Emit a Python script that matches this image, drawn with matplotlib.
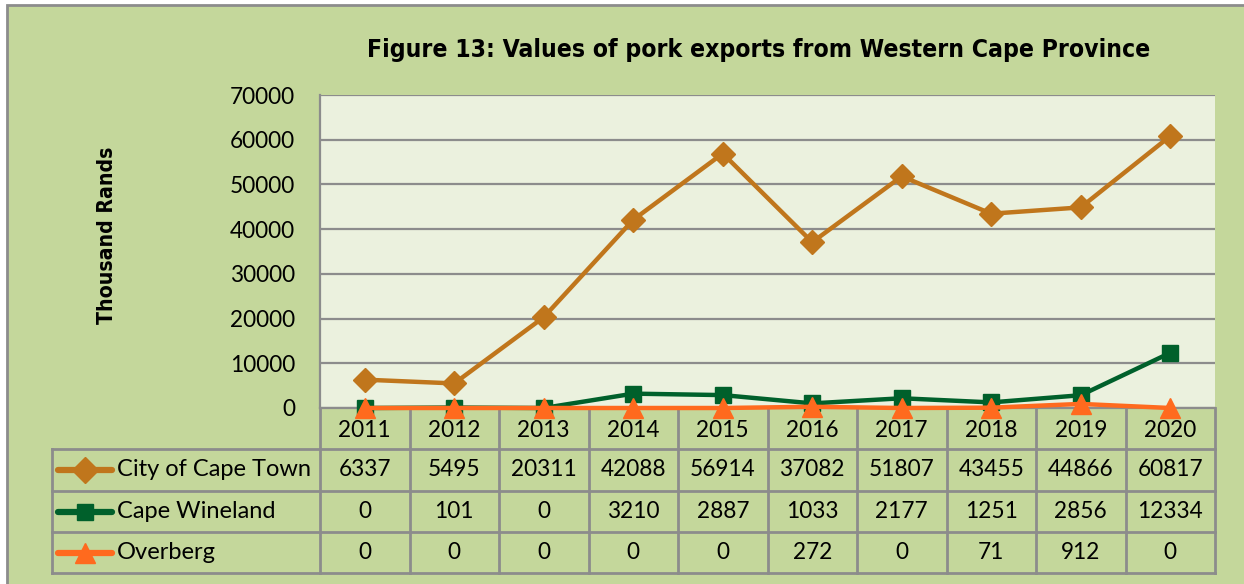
import matplotlib
matplotlib.use("Agg")
import matplotlib.pyplot as plt
from matplotlib.lines import Line2D
from matplotlib import font_manager

years = ["2011", "2012", "2013", "2014", "2015", "2016", "2017", "2018", "2019", "2020"]
series_names = ["City of Cape Town", "Cape Wineland", "Overberg"]
cape_town = [6337, 5495, 20311, 42088, 56914, 37082, 51807, 43455, 44866, 60817]
cape_wineland = [0, 101, 0, 3210, 2887, 1033, 2177, 1251, 2856, 12334]
overberg = [0, 0, 0, 0, 0, 272, 0, 71, 912, 0]
yticks = [0, 10000, 20000, 30000, 40000, 50000, 60000, 70000]
title = "Figure 13: Values of pork exports from Western Cape Province"
ylabel = "Thousand Rands"

series = [cape_town, cape_wineland, overberg]
colors = ["#C0761C", "#00602B", "#FF6A1E"]
markers = ["D", "s", "^"]
msizes = [12, 11, 14]

W, H = 1244, 584
fig = plt.figure(figsize=(W / 100, H / 100), dpi=100)
fig.patch.set_facecolor("white")

num_font = "Lato"
fs = 16.3
fs_name = 17
grid_c = "#8C8C8C"

names = {f.name for f in font_manager.fontManager.ttflist}
if "Liberation Sans Narrow" in names:
    tfont, tstretch, tsize, ysize = "Liberation Sans Narrow", "normal", 19.5, 15.5
else:
    tfont, tstretch, tsize, ysize = "DejaVu Sans", "condensed", 17.7, 15.2

# background / frame axes in pixel coords
bg = fig.add_axes([0, 0, 1, 1])
bg.set_xlim(0, W)
bg.set_ylim(H, 0)
bg.axis("off")
bg.add_patch(plt.Rectangle((7, 5), W, H, facecolor="#C4D79B", edgecolor="#8C8C8C", lw=2, zorder=0))

# plot area
L, R, T, B = 320, 1215, 95, 408
ax = fig.add_axes([L / W, (H - B) / H, (R - L) / W, (B - T) / H])
ax.set_facecolor("#EBF1DE")
x = list(range(len(years)))
for vals, c, m, ms in zip(series, colors, markers, msizes):
    ax.plot(x, vals, color=c, lw=3.2, marker=m, ms=ms, mec=c, mfc=c, zorder=3, clip_on=False)
ax.set_xlim(-0.5, len(years) - 0.5)
ax.set_ylim(0, 70000)
ax.set_yticks(yticks)
ax.set_yticklabels([str(v) for v in yticks], fontfamily=num_font, fontsize=fs)
ax.set_xticks([])
ax.tick_params(axis="y", length=0, pad=18)
ax.yaxis.grid(True, color=grid_c, lw=1.6)
ax.set_axisbelow(True)
for s in ["top", "right"]:
    ax.spines[s].set_visible(False)
ax.spines["left"].set_color(grid_c)
ax.spines["left"].set_linewidth(1.6)
ax.spines["bottom"].set_color(grid_c)
ax.spines["bottom"].set_linewidth(1.6)

# title and ylabel
fig.text(759 / W, 1 - 50 / H, title, fontfamily=tfont, fontstretch=tstretch,
         fontweight="bold", fontsize=tsize, ha="center", va="center")
fig.text(107 / W, 1 - 235 / H, ylabel, fontfamily=tfont, fontstretch=tstretch,
         fontweight="bold", fontsize=ysize, ha="center", va="center", rotation=90)

# data table
n = len(years)
cw = (R - L) / n
tl = 52
rows_y = [408, 449, 491, 532, 573]
lkw = dict(color=grid_c, lw=2, zorder=2)
for k in range(n + 1):
    bg.plot([L + k * cw, L + k * cw], [rows_y[0], rows_y[-1]], **lkw)
bg.plot([tl, tl], [rows_y[1], rows_y[-1]], **lkw)
for yy in rows_y[1:]:
    bg.plot([tl, R], [yy, yy], **lkw)

for k, yr in enumerate(years):
    bg.text(L + (k + 0.5) * cw, (rows_y[0] + rows_y[1]) / 2 + 2, yr, ha="center", va="center",
            fontfamily=num_font, fontsize=fs)
for i, (name, vals, c, m, ms) in enumerate(zip(series_names, series, colors, markers, msizes)):
    yc = (rows_y[i + 1] + rows_y[i + 2]) / 2
    bg.add_line(Line2D([58, 112], [yc, yc], color=c, lw=4.5, solid_capstyle="round", zorder=3))
    bg.add_line(Line2D([85], [yc], color=c, marker=m, ms=ms + 1, mec=c, mfc=c, zorder=4))
    bg.text(117, yc, name, ha="left", va="center", fontfamily=num_font, fontsize=fs_name)
    for k, v in enumerate(vals):
        bg.text(L + (k + 0.5) * cw, yc, str(v), ha="center", va="center",
                fontfamily=num_font, fontsize=fs)

fig.savefig("out.png", dpi=100, facecolor=fig.get_facecolor())
